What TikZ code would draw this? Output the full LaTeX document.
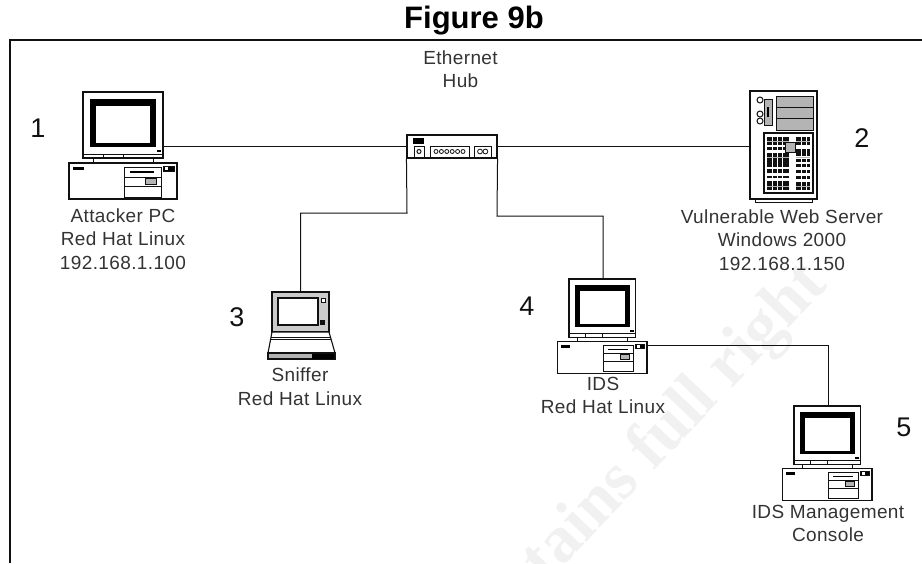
\documentclass[tikz,border=0pt]{standalone}
\usepackage{xcolor}
\usepackage{fontspec}
\setmainfont{Liberation Sans}
\newfontfamily\markfont{Liberation Serif}
\usetikzlibrary{positioning}
\definecolor{INK}{HTML}{111111}
\definecolor{TXT}{HTML}{333333}
\definecolor{BAY}{HTML}{B4B4B4}
\definecolor{MARK}{HTML}{F1F1F1}

\begin{document}
\begin{tikzpicture}[
    x=1pt, y=-1pt,
    line width=1pt, draw=INK,
    lbl/.style={font=\fontsize{19}{23.5}\selectfont\addfontfeature{LetterSpace=2}, text=TXT, align=center, inner sep=0pt},
    num/.style={font=\fontsize{27}{30}\selectfont, text=INK, inner sep=0pt},
    head/.style={font=\fontsize{31}{34}\selectfont\bfseries, text=black, inner sep=0pt},
    wmark/.style={font=\fontsize{67}{72}\markfont\bfseries, text=MARK, inner sep=0pt, rotate=46.5},
    link/.style={draw=INK, line width=1pt},
    unit/.style={draw=INK, fill=white, line width=1.1pt, inner sep=0pt, minimum size=0pt},
    pics/desktop/.style={code={
      % monitor
      \draw[INK, fill=white, line width=1.1pt] (0,0) rectangle (80,66);
      \fill[black] (7,7) rectangle (73,55);
      \fill[white] (13,14) rectangle (67,51);
      \fill[black] (74,58) rectangle (78,60);
      \draw[INK] (0,62) -- (80,62) (20,62) -- (20,66) (40,62) -- (40,66);
      \draw[INK] (10,66) -- (10,71) (70,66) -- (70,71);
      % case
      \draw[INK, fill=white, line width=1.1pt] (-14,71) rectangle (94,107);
      \fill[black] (-10,75) rectangle (1,78);
      \draw[INK] (41,75) rectangle (78,105);
      \draw[INK] (41,85) -- (78,85) (41,94) -- (78,94);
      \fill[black] (47,79) rectangle (71,81);
      \draw[INK, fill=BAY] (62,86) rectangle (73,92);
      \draw[INK, fill=black] (80,74) rectangle (91,79);
      \fill[white] (82,75) rectangle (85,78);
      \coordinate (-port) at (80,54);
      \coordinate (-top) at (41,0);
      \coordinate (-side) at (94,76);
    }},
  ]
  \useasboundingbox (0,0) rectangle (922,563);

  % watermark behind everything
  \node[wmark] (mark) at (676,424) {tains full right};

  % page frame
  \coordinate (frameA) at (10,563);
  \coordinate (frameB) at (10,40);
  \coordinate (frameC) at (922,40);
  \draw[INK, line width=2.2pt] (frameA) -- (frameB) -- (frameC);
  \node[head] (title) at (474,20.5) {Figure 9b};

  % ===== hub =====
  \node[unit, minimum width=90pt, minimum height=23pt] (hub) at (452,146.5) {};
  \fill[black] (413,138) rectangle (424,144);
  \draw[INK] (414,146) rectangle (424,157);
  \draw[INK] (419,151.5) circle (2);
  \draw[INK] (430,146) rectangle (469,157);
  \foreach \i in {0,...,5} {
    \draw[INK, line width=.8pt] (\i*5.4+436,151.5) circle (2);
  }
  \draw[INK] (474,146) rectangle (491,157);
  \foreach \i in {0,1} {
    \draw[INK, line width=.8pt] (\i*5.4+480,151.5) circle (2.4);
  }
  \node[lbl] (hubname) at (460.5,69) {Ethernet\\Hub};

  % ===== attacker pc =====
  \pic (pcA) at (83,92) {desktop};
  \node[lbl] (pcAname) at (123,239) {Attacker PC\\Red Hat Linux\\192.168.1.100};
  \node[num] (n1) at (38,128) {1};

  % ===== web server =====
  \node[unit, minimum width=67pt, minimum height=108pt] (srv) at (783.5,145) {};
  \draw[INK] (755,199) -- (755,202) -- (812,202) -- (812,199);
  \draw[INK, fill=BAY] (776,96) rectangle (813,130);
  \draw[INK] (776,107.5) -- (813,107.5) (776,118.5) -- (813,118.5);
  \draw[INK, fill=BAY] (764,99) rectangle (772,125);
  \fill[black] (767,107) rectangle (769,117);
  \foreach \y in {100,114,121} {
    \draw[INK, fill=white] (760,\y) circle (3);
  }
  \draw[INK, line width=1.2pt, fill=white] (764,133) rectangle (813,193);
  \foreach \ya/\yb in {137/145,147/150,153/167,169/173,176/178,181/190} {
    \fill[INK] (767,\ya) rectangle (789,\yb);
  }
  \foreach \ya/\yb in {137/145,149/156,159/162,164/167,170/173,176/179,182/190} {
    \fill[INK] (796,\ya) rectangle (810,\yb);
  }
  \foreach \x in {772,777,782,801,806} {
    \draw[white, line width=.8pt] (\x,137) -- (\x,190);
  }
  \foreach \y in {141,157,186} {
    \draw[BAY, line width=.8pt] (767,\y) -- (789,\y) (796,\y) -- (810,\y);
  }
  \draw[INK, fill=BAY] (785,142) rectangle (795,152);
  \node[lbl] (srvname) at (782,240) {Vulnerable Web Server\\Windows 2000\\192.168.1.150};
  \node[num] (n2) at (862,138) {2};

  % ===== sniffer laptop =====
  \node[unit, fill=BAY!70, minimum width=57pt, minimum height=40pt] (lap) at (300.5,312) {};
  \draw[INK, fill=white, line width=1.4pt] (278,298) rectangle (318,325);
  \draw[INK, fill=white, line width=.8pt] (321,298) rectangle (325,302);
  \fill[INK] (319.5,320) rectangle (325,325);
  \draw[INK, fill=white, line width=1.1pt] (272,332) -- (329,332) -- (335,353) -- (268,353) -- cycle;
  \draw[INK] (271,337) -- (330,337) (270,339) -- (331,339);
  \draw[INK, fill=BAY, line width=1.1pt] (268,353) rectangle (335,359);
  \fill[black] (312,354) rectangle (334,358.5);
  \node[lbl] (lapname) at (300,386.5) {Sniffer\\Red Hat Linux};
  \node[num] (n3) at (237,317) {3};

  % ===== ids =====
  \pic[xscale=.83, yscale=.88] (pcD) at (569,279) {desktop};
  \node[lbl] (pcDname) at (603,395.5) {IDS\\Red Hat Linux};
  \node[num] (n4) at (527,306) {4};

  % ===== console =====
  \pic[xscale=.83, yscale=.88] (pcE) at (794,406) {desktop};
  \node[lbl] (pcEname) at (828,523.5) {IDS Management\\Console};
  \node[num] (n5) at (904,427) {5};

  % ===== links =====
  \coordinate (bendL) at (407,213);
  \coordinate (bendR) at (497,216);
  \draw[link] (pcA-port) -- (pcA-port -| hub.west);
  \draw[link] (hub.east) -- (hub.east -| srv.west);
  \draw[link] (hub.south west) -- (bendL) -| (lap.north);
  \draw[link] (hub.south east) -- (bendR) -| (pcD-top);
  \draw[link] (pcD-side) -| (pcE-top);

\end{tikzpicture}
\end{document}
